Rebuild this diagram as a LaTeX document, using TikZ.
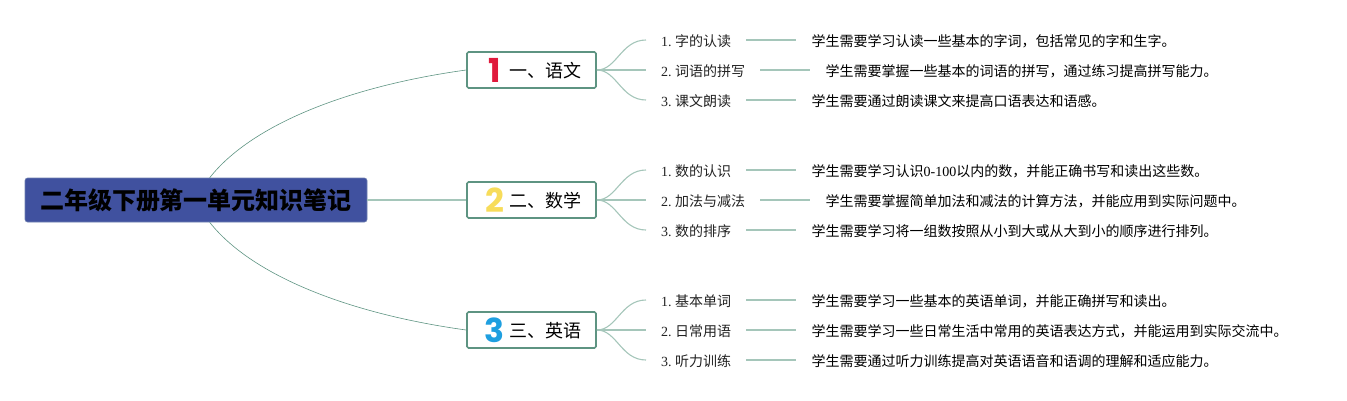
\documentclass[tikz,border=0pt]{standalone}
\usepackage{fontspec}
\setmainfont{Liberation Serif}
\newfontfamily\cj{Noto Sans CJK SC}
\newfontfamily\numf{Poppins}
\usetikzlibrary{calc}
\frenchspacing
\definecolor{rootblue}{HTML}{40519F}
\definecolor{rootedge}{HTML}{6F80B0}
\definecolor{boxgreen}{HTML}{5E9482}
\definecolor{thin}{HTML}{5E9482}
\definecolor{soft}{HTML}{A5C6BA}
\definecolor{txt}{HTML}{222222}
\definecolor{iconred}{HTML}{E01A3C}
\definecolor{iconyellow}{HTML}{F7DC5A}
\definecolor{iconblue}{HTML}{1E9FE0}
\tikzset{
 x=1pt,y=-1pt,
 rootnode/.style={draw=rootedge,line width=.6pt,fill=rootblue,rounded corners=2.5pt,minimum width=342pt,minimum height=44pt,inner sep=0pt,text=black,font=\fontsize{24}{30}\selectfont\cj\bfseries},
 topic/.style={draw=boxgreen,line width=1.7pt,fill=white,rounded corners=1.5pt,minimum width=129pt,minimum height=36pt,inner sep=0pt,anchor=center},
 topictext/.style={inner sep=0pt,anchor=east,text=black,font=\fontsize{18}{22}\selectfont\cj},
 icon/.style={inner sep=0pt,anchor=base,font=\fontsize{33}{36}\selectfont\numf\bfseries},
 sub/.style={anchor=west,inner ysep=2pt,inner xsep=15pt,text height=14pt,text depth=2pt,text=txt,font=\fontsize{14}{17}\selectfont},
 desc/.style={sub,text=black},
 thinline/.style={draw=thin,line width=.6pt},
 softline/.style={draw=soft,line width=1.1pt},
}
\begin{document}
\begin{tikzpicture}
\useasboundingbox (0,0) rectangle (1347,400);
\node[rootnode] (root) at (196,200) {二年级下册第一单元知识笔记};
\coordinate (rt) at ($(root.north west)+(185,0)$);
\coordinate (rb) at ($(root.south west)+(185,0)$);

\node[topic] (t1) at (531.5,70) {};
\node[topic] (t2) at (531.5,200) {};
\node[topic] (t3) at (531.5,330) {};
\node[topictext] at (582,71) {一、语文};
\node[topictext] at (582,201) {二、数学};
\node[topictext] at (582,331) {三、英语};
\node[icon,text=iconred] at (494.5,82) {1};
\node[icon,text=iconyellow] at (494.5,212) {2};
\node[icon,text=iconblue] at (494.5,342) {3};

\draw[thinline] (rt) .. controls (252,124) and (350,86) .. (t1.west);
\draw[softline] (root.east) -- (t2.west);
\draw[thinline] (rb) .. controls (252,276) and (350,314) .. (t3.west);

% group 1
\node[sub] (a1) at (646,40) {1. {\cj 字的认读}};
\node[sub] (a2) at (646,70) {2. {\cj 词语的拼写}};
\node[sub] (a3) at (646,100) {3. {\cj 课文朗读}};
\node[desc] (d1) at ($(a1.east)+(50,0)$) {\cj 学生需要学习认读一些基本的字词，包括常见的字和生字。};
\node[desc] (d2) at ($(a2.east)+(50,0)$) {\cj 学生需要掌握一些基本的词语的拼写，通过练习提高拼写能力。};
\node[desc] (d3) at ($(a3.east)+(50,0)$) {\cj 学生需要通过朗读课文来提高口语表达和语感。};
% group 2
\node[sub] (b1) at (646,170) {1. {\cj 数的认识}};
\node[sub] (b2) at (646,200) {2. {\cj 加法与减法}};
\node[sub] (b3) at (646,230) {3. {\cj 数的排序}};
\node[desc] (e1) at ($(b1.east)+(50,0)$) {{\cj 学生需要学习认识}0-100{\cj 以内的数，并能正确书写和读出这些数。}};
\node[desc] (e2) at ($(b2.east)+(50,0)$) {\cj 学生需要掌握简单加法和减法的计算方法，并能应用到实际问题中。};
\node[desc] (e3) at ($(b3.east)+(50,0)$) {\cj 学生需要学习将一组数按照从小到大或从大到小的顺序进行排列。};
% group 3
\node[sub] (c1) at (646,300) {1. {\cj 基本单词}};
\node[sub] (c2) at (646,330) {2. {\cj 日常用语}};
\node[sub] (c3) at (646,360) {3. {\cj 听力训练}};
\node[desc] (f1) at ($(c1.east)+(50,0)$) {\cj 学生需要学习一些基本的英语单词，并能正确拼写和读出。};
\node[desc] (f2) at ($(c2.east)+(50,0)$) {\cj 学生需要学习一些日常生活中常用的英语表达方式，并能运用到实际交流中。};
\node[desc] (f3) at ($(c3.east)+(50,0)$) {\cj 学生需要通过听力训练提高对英语语音和语调的理解和适应能力。};

\foreach \t/\p/\q in {t1/a/d,t2/b/e,t3/c/f}{
  \draw[softline] (\t.east) .. controls +(20,0) and ($(\p1.west)+(-25,0)$) .. (\p1.west);
  \draw[softline] (\t.east) -- (\p2.west);
  \draw[softline] (\t.east) .. controls +(20,0) and ($(\p3.west)+(-25,0)$) .. (\p3.west);
  \foreach \i in {1,2,3}{
    \draw[softline] (\p\i.east) -- (\q\i.west);
  }
}
\end{tikzpicture}
\end{document}
